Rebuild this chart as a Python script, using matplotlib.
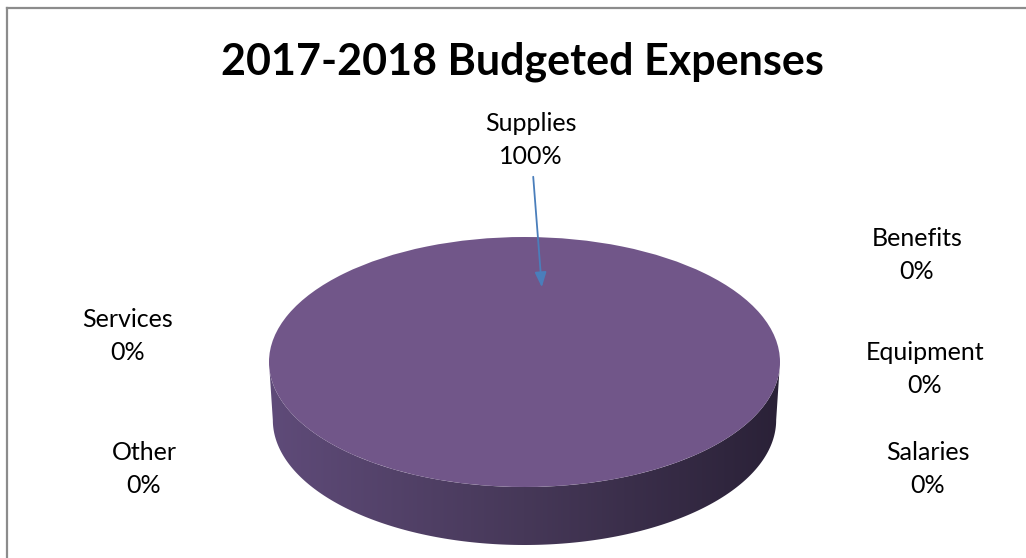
import numpy as np
import matplotlib.pyplot as plt
from matplotlib.colors import LinearSegmentedColormap
from matplotlib.patches import Polygon

plt.rcParams['font.family'] = ['Lato', 'DejaVu Sans']

title = "2017-2018 Budgeted Expenses"
categories = ["Supplies", "Benefits", "Equipment", "Salaries", "Other", "Services"]
shares = [100, 0, 0, 0, 0, 0]

# where each label sits (pixels from the top-left corner)
label_px = [(531, 140), (917, 255), (925, 369), (928, 469), (144, 469), (128, 336)]

W, H = 1026, 558
fig = plt.figure(figsize=(W / 100, H / 100), dpi=100)

# pie coordinates: unit radius in x, top face squashed in y
cx, cy, rx, ry = 524.5, 362.0, 255.5, 125.0
ax = fig.add_axes([0, 0, 1, 1])
ax.pie(shares, colors=["#715689"] * len(shares), startangle=90,
       counterclock=False, wedgeprops=dict(linewidth=0))
ax.set_aspect('auto')
ax.axis('off')

# side wall of the disc, shaded left to right
depth = 58 / ry
t = np.linspace(np.pi, 2 * np.pi, 200)
top = np.column_stack([np.cos(t), np.sin(t)])
bot = np.column_stack([0.985 * np.cos(t[::-1]), np.sin(t[::-1]) - depth])
wall = Polygon(np.vstack([top, bot]), closed=True, facecolor='none', edgecolor='none')
ax.add_patch(wall)
shade = LinearSegmentedColormap.from_list("wall", ["#5f4b79", "#463858", "#2a2137"])
grad = ax.imshow(np.linspace(0, 1, 256)[None, :], cmap=shade, aspect='auto',
                 extent=(-1, 1, -1 - depth, 0.05), zorder=0.5)
grad.set_clip_path(wall)
ax.set_xlim(-cx / rx, (W - cx) / rx)
ax.set_ylim((cy - H) / ry, cy / ry)

# data labels
for name, val, (px, py) in zip(categories, shares, label_px):
    fig.text(px / W, 1 - py / H, f"{name}\n{val}%", ha='center', va='center',
             fontsize=18, linespacing=1.5, color='black')

# leader arrow for the big slice
ax.annotate("", xy=((542 - cx) / rx, (cy - 290) / ry),
            xytext=((533 - cx) / rx, (cy - 174) / ry),
            arrowprops=dict(arrowstyle='-|>,head_length=0.9,head_width=0.35',
                            color='#4a7ebb', lw=1.3))

fig.text(522 / W, 1 - 62 / H, title, ha='center', va='center',
         fontsize=31, fontweight='bold')

# chart frame (top and left edges show)
fig.add_artist(plt.Line2D([6.5 / W, 6.5 / W], [0, 1 - 7.5 / H],
                          color='#8c8c8c', lw=1.6))
fig.add_artist(plt.Line2D([6.5 / W, 1], [1 - 7.5 / H, 1 - 7.5 / H],
                          color='#8c8c8c', lw=1.6))

fig.savefig("out.png", dpi=100)
